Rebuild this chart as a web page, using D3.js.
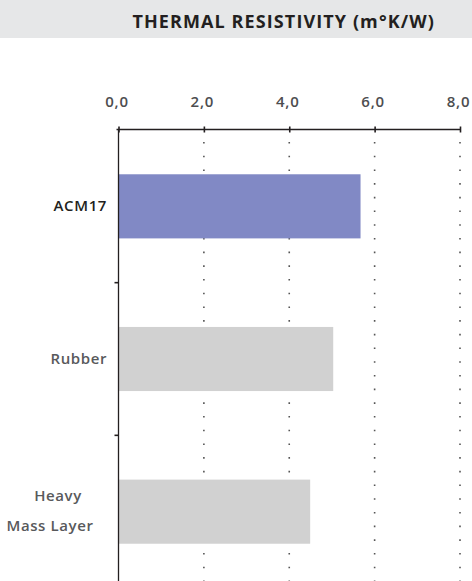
<!DOCTYPE html>
<html>
<head>
<meta charset="utf-8">
<script src="https://cdn.jsdelivr.net/npm/d3@7"></script>
<style>
  body { margin: 0; background: #fff; }
  svg { display: block; font-family: "Open Sans", sans-serif; }
</style>
</head>
<body>
<svg id="chart" width="472" height="581"></svg>
<script>
// data
const materials = ["ACM17", "Rubber", "Heavy\nMass Layer"];
const resistivity = [5.67, 5.03, 4.49];
const tickValues = [0, 2, 4, 6, 8];
const barColors = ["#8189c5", "#d1d1d1", "#d1d1d1"];

const svg = d3.select("#chart");

// grey title strip
svg.append("rect")
   .attr("x", 0).attr("y", 0)
   .attr("width", 472).attr("height", 38)
   .attr("fill", "#e6e7e8");

svg.append("text")
   .attr("x", 435).attr("y", 28)
   .attr("text-anchor", "end")
   .attr("font-size", 18)
   .attr("font-weight", 700)
   .attr("letter-spacing", 1.1)
   .attr("fill", "#231f20")
   .text("THERMAL RESISTIVITY (m°K/W)");

const x = d3.scaleLinear().domain([0, 8]).range([118.5, 460]);
const y = d3.scaleBand().domain(materials).range([130, 588])
            .paddingInner(0.58).paddingOuter(0.29);
const step = y.step();

// dotted grid lines
svg.append("g")
   .selectAll("line")
   .data(tickValues.slice(1))
   .join("line")
   .attr("x1", d => x(d)).attr("x2", d => x(d))
   .attr("y1", 142).attr("y2", 581)
   .attr("stroke", "#555")
   .attr("stroke-width", 1.6)
   .attr("stroke-dasharray", "1.6,12.1");

// bars
svg.append("g")
   .selectAll("rect")
   .data(materials)
   .join("rect")
   .attr("x", x(0))
   .attr("y", d => y(d))
   .attr("width", (d, i) => x(resistivity[i]) - x(0))
   .attr("height", y.bandwidth())
   .attr("fill", (d, i) => barColors[i]);

// top axis
const xAxis = svg.append("g")
   .attr("transform", "translate(0,129.5)")
   .call(d3.axisTop(x).tickValues(tickValues).tickSize(0).tickPadding(0)
           .tickFormat(d => d3.format(".1f")(d).replace(".", ",")));
xAxis.select(".domain").attr("stroke", "#231f20").attr("stroke-width", 1.3)
     .attr("d", "M" + (x(0) - 2) + ",0H" + x(8));
xAxis.selectAll(".tick text")
     .attr("x", -2)
     .attr("y", -23)
     .attr("font-size", 15)
     .attr("font-weight", 600)
     .attr("letter-spacing", 0.8)
     .attr("font-family", "Open Sans, sans-serif")
     .attr("fill", "#4d4d4f");
xAxis.selectAll(".tick").append("line")
     .attr("y1", -3).attr("y2", 3)
     .attr("stroke", "#231f20").attr("stroke-width", 1.6);

// left axis line and ticks between categories
svg.append("line")
   .attr("x1", x(0)).attr("x2", x(0))
   .attr("y1", 129).attr("y2", 581)
   .attr("stroke", "#231f20").attr("stroke-width", 1.3);

svg.append("g")
   .selectAll("line")
   .data(materials.slice(0, -1))
   .join("line")
   .attr("x1", x(0) - 4).attr("x2", x(0))
   .attr("y1", d => y(d) + y.bandwidth() / 2 + step / 2)
   .attr("y2", d => y(d) + y.bandwidth() / 2 + step / 2)
   .attr("stroke", "#231f20").attr("stroke-width", 1.6);

// category labels
const labelX = [107, 107, 58];
svg.append("g")
   .selectAll("text")
   .data(materials)
   .join("text")
   .attr("font-size", 15)
   .attr("font-weight", 600)
   .attr("letter-spacing", 0.6)
   .attr("fill", (d, i) => i === 0 ? "#231f20" : "#58595b")
   .attr("text-anchor", (d, i) => i === 2 ? "middle" : "end")
   .each(function(d, i) {
     const lines = d.split("\n");
     const cy = y(d) + y.bandwidth() / 2;
     const t = d3.select(this);
     if (lines.length === 1) {
       t.attr("x", labelX[i]).attr("y", cy + 5).text(d);
     } else {
       t.append("tspan").attr("x", 58).attr("y", cy - 11).text(lines[0]);
       t.append("tspan").attr("x", 50).attr("y", cy + 19).text(lines[1]);
     }
   });
</script>
</body>
</html>
